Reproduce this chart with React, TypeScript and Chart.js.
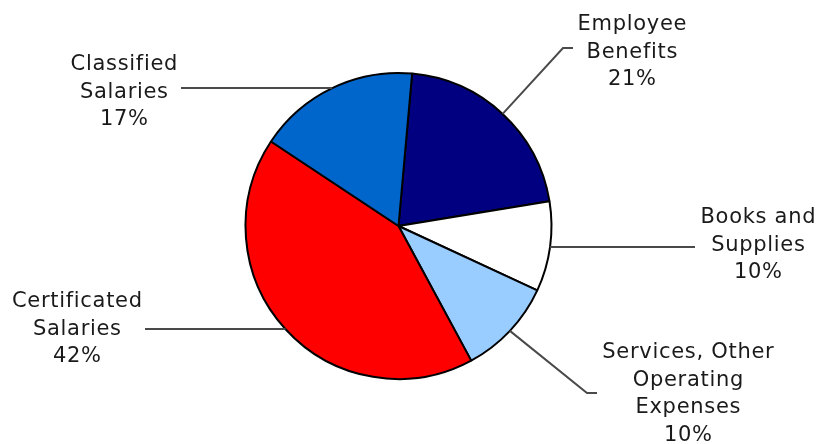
import React, { useEffect, useRef } from "react";
import { Chart, registerables } from "chart.js";

Chart.register(...registerables);

const categories = [
  "Employee Benefits",
  "Books and Supplies",
  "Services, Other Operating Expenses",
  "Certificated Salaries",
  "Classified Salaries",
];
const values = [21.0, 9.5, 10.2, 42.2, 17.1];
const pctLabels = ["21%", "10%", "10%", "42%", "17%"];
const labelLines = [
  ["Employee", "Benefits"],
  ["Books and", "Supplies"],
  ["Services, Other", "Operating", "Expenses"],
  ["Certificated", "Salaries"],
  ["Classified", "Salaries"],
];
const colors = ["#000080", "#FFFFFF", "#99CCFF", "#FF0000", "#0066CC"];

// layout for callout labels (canvas pixels)
const calloutLayout = [
  { cx: 632, y0: 30, elbow: [563, 48], end: [573, 48] },
  { cx: 758, y0: 223, elbow: null, end: [695, 0] },
  { cx: 688, y0: 358, elbow: [587, 393], end: [597, 393] },
  { cx: 77, y0: 307, elbow: null, end: [145, 0] },
  { cx: 124, y0: 70, elbow: null, end: [181, 0] },
];

const calloutPlugin = {
  id: "callouts",
  afterDraw(chart: any) {
    const ctx = chart.ctx;
    const meta = chart.getDatasetMeta(0);
    ctx.save();
    meta.data.forEach((arc: any, i: number) => {
      const p = arc.getProps(["x", "y", "startAngle", "endAngle", "outerRadius"], true);
      const mid = (p.startAngle + p.endAngle) / 2;
      const ax = p.x + Math.cos(mid) * p.outerRadius;
      const ay = p.y + Math.sin(mid) * p.outerRadius;
      const L = calloutLayout[i];
      ctx.strokeStyle = "#4a4a4a";
      ctx.lineWidth = 2;
      ctx.beginPath();
      ctx.moveTo(ax, ay);
      if (L.elbow) {
        ctx.lineTo(L.elbow[0], L.elbow[1]);
        ctx.lineTo(L.end[0], L.end[1]);
      } else {
        const yy = Math.round(ay);
        ctx.moveTo(ax, yy);
        ctx.lineTo(L.end[0], yy);
      }
      ctx.stroke();

      ctx.fillStyle = "#1a1a1a";
      ctx.font = "21px 'DejaVu Sans'";
      (ctx as any).letterSpacing = "0.7px";
      ctx.textAlign = "center";
      ctx.textBaseline = "alphabetic";
      const lines = [...labelLines[i], pctLabels[i]];
      lines.forEach((t, k) => {
        ctx.fillText(t, L.cx + 0.35, L.y0 + k * 27.7);
      });
    });
    ctx.restore();
  },
};

export default function App() {
  const ref = useRef<HTMLCanvasElement>(null);
  useEffect(() => {
    if (!ref.current) return;
    const chart = new Chart(ref.current, {
      type: "pie",
      data: {
        labels: categories,
        datasets: [
          {
            data: values,
            backgroundColor: colors,
            borderColor: "#000000",
            borderWidth: 2,
          },
        ],
      },
      options: {
        animation: false,
        responsive: false,
        rotation: 5.1,
        layout: { padding: { top: 72, bottom: 64, left: 0, right: 20 } },
        plugins: {
          legend: { display: false },
          tooltip: { enabled: false },
        },
      },
      plugins: [calloutPlugin],
    });
    return () => chart.destroy();
  }, []);
  return (
    <div style={{ position: "absolute", left: 0, top: 0, width: 817, height: 444, background: "#fff" }}>
      <canvas ref={ref} width={817} height={444} style={{ display: "block" }} />
    </div>
  );
}
